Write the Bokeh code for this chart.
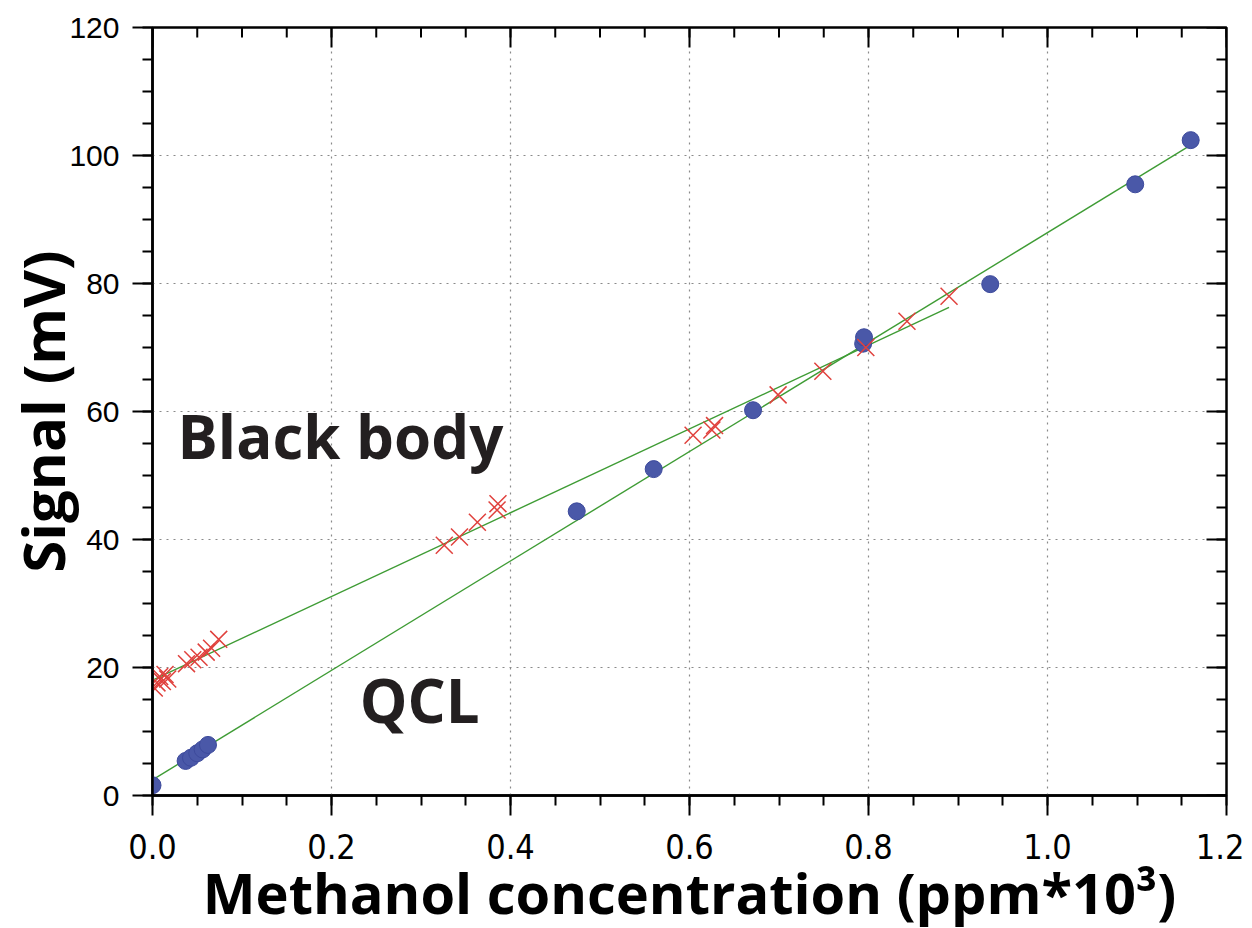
import numpy as np
from bokeh.plotting import figure
from bokeh.models import FixedTicker, Label, Range1d
from bokeh.embed import file_html
from bokeh.resources import INLINE

# ---- data ----
bb_x = [0.002, 0.005, 0.008, 0.011, 0.014, 0.017,
        0.038, 0.045, 0.052, 0.060, 0.066, 0.074,
        0.326, 0.343, 0.363, 0.385, 0.386,
        0.604, 0.625, 0.628,
        0.699, 0.749, 0.797, 0.843, 0.890]
bb_y = [16.8, 17.6, 18.6, 17.8, 18.9, 18.2,
        20.6, 21.2, 21.6, 22.4, 23.0, 24.4,
        39.1, 40.4, 42.7, 44.6, 45.6,
        56.3, 57.1, 57.8,
        62.6, 66.3, 70.0, 74.1, 78.0]

qcl_x = [0.0, 0.037, 0.043, 0.050, 0.056, 0.062,
         0.474, 0.560, 0.671, 0.794, 0.795, 0.936, 1.098, 1.160]
qcl_y = [1.6, 5.4, 5.9, 6.6, 7.2, 7.9,
         44.4, 51.0, 60.2, 70.6, 71.6, 79.9, 95.5, 102.4]

x_major = [0.0, 0.2, 0.4, 0.6, 0.8, 1.0, 1.2]
x_tick_labels = ["0.0", "0.2", "0.4", "0.6", "0.8", "1.0", "1.2"]
x_minor = [round(0.05 * i, 2) for i in range(25)]
y_major = [0, 20, 40, 60, 80, 100, 120]
y_tick_labels = ["0", "20", "40", "60", "80", "100", "120"]
y_minor = [5 * i for i in range(25)]

X_MIN, X_MAX = 0.0, 1.2
Y_MIN, Y_MAX = 0, 120

# ---- figure ----
p = figure(frame_width=1074, frame_height=768,
           x_range=Range1d(X_MIN, X_MAX), y_range=Range1d(Y_MIN, Y_MAX),
           output_backend="svg", toolbar_location=None,
           min_border_left=144, min_border_right=18, min_border_top=27, min_border_bottom=125)
p.background_fill_color = "white"
p.border_fill_color = "white"
p.outline_line_color = "black"
p.outline_line_width = 2.5

xt = FixedTicker(ticks=x_major, minor_ticks=x_minor)
yt = FixedTicker(ticks=y_major, minor_ticks=y_minor)

for ax in (p.xaxis[0], p.yaxis[0]):
    ax.axis_line_width = 2.5
    ax.major_tick_line_width = 2
    ax.minor_tick_line_width = 2
    ax.major_tick_out = 20
    ax.major_tick_in = 0
    ax.minor_tick_out = 10
    ax.minor_tick_in = 0
    ax.major_label_text_color = "black"
    ax.axis_label_text_color = "black"
    ax.axis_label_text_font = "Open Sans"
    ax.axis_label_text_font_style = "bold"

p.xaxis.ticker = xt
p.yaxis.ticker = yt
p.xaxis.major_label_overrides = {v: s for v, s in zip(x_major, x_tick_labels)}
p.yaxis.major_label_overrides = {v: s for v, s in zip(y_major, y_tick_labels)}
p.xaxis.major_label_text_font = "DejaVu Sans Condensed"
p.xaxis.major_label_text_font_size = "34px"
p.xaxis.major_label_standoff = 18
p.yaxis.major_label_text_font = "Liberation Sans"
p.yaxis.major_label_text_font_size = "30px"
p.yaxis.major_label_standoff = 13
p.xaxis.axis_label = "Methanol concentration (ppm*10³)"
p.yaxis.axis_label = "Signal (mV)"
p.xaxis.axis_label_text_font_size = "56px"
p.yaxis.axis_label_text_font_size = "58px"
p.xaxis.axis_label_standoff = -8
p.yaxis.axis_label_standoff = -16

p.xgrid.ticker = xt
p.ygrid.ticker = yt
for g in (p.xgrid[0], p.ygrid[0]):
    g.grid_line_color = "#8a8a8a"
    g.grid_line_dash = "2 5"
    g.grid_line_width = 1.2

# inward ticks on the top and right frame edges (mirrors of the axes)
p.ray(x=x_major, y=[Y_MAX] * len(x_major), length=20, length_units="screen",
      angle=-np.pi / 2, line_color="black", line_width=2)
p.ray(x=x_minor, y=[Y_MAX] * len(x_minor), length=10, length_units="screen",
      angle=-np.pi / 2, line_color="black", line_width=2)
p.ray(x=[X_MAX] * len(y_major), y=y_major, length=20, length_units="screen",
      angle=np.pi, line_color="black", line_width=2)
p.ray(x=[X_MAX] * len(y_minor), y=y_minor, length=10, length_units="screen",
      angle=np.pi, line_color="black", line_width=2)

# fitted lines from the data
bb_fit = np.polyfit(bb_x, bb_y, 1)
qcl_fit = np.polyfit(qcl_x, qcl_y, 1)
bb_lx = [min(bb_x), max(bb_x)]
qcl_lx = [min(qcl_x), max(qcl_x)]
p.line(bb_lx, list(np.polyval(bb_fit, bb_lx)), line_color="#3f9c35", line_width=1.4)
p.line(qcl_lx, list(np.polyval(qcl_fit, qcl_lx)), line_color="#3f9c35", line_width=1.4)

p.scatter(qcl_x, qcl_y, marker="circle", size=17, fill_color="#4a58a8",
          line_color="#3d4a9c", line_width=1)
p.scatter(bb_x, bb_y, marker="x", size=24, line_color="#e0413d", line_width=1.5)

p.add_layout(Label(x=0.028, y=56.2, text="Black body", text_font="Open Sans",
                   text_font_style="bold", text_font_size="60px", text_color="#231f20",
                   text_baseline="alphabetic"))
p.add_layout(Label(x=0.2315, y=15.0, text="QCL", text_font="Open Sans",
                   text_font_style="bold", text_font_size="60px", text_color="#231f20",
                   text_baseline="alphabetic"))

open("out.html", "w").write(file_html(p, INLINE))
